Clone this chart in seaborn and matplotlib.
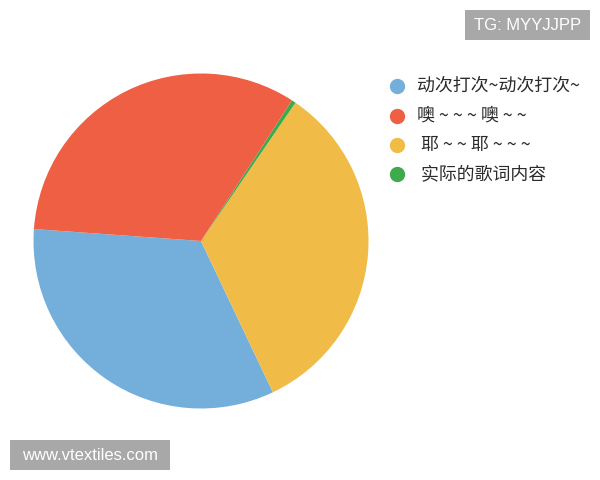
import matplotlib
matplotlib.use("Agg")
import matplotlib.pyplot as plt
import seaborn as sns
from matplotlib.lines import Line2D
from matplotlib.patches import Rectangle

# ---------- data (legend order) ---------- #
labels = ["动次打次~动次打次~", "噢 ~ ~ ~ 噢 ~ ~", " 耶 ~ ~ 耶 ~ ~ ~", " 实际的歌词内容"]
shares = [33.2, 33.0, 33.4, 0.4]
colors = ["#74afdc", "#ee5f44", "#f0bc47", "#3daa4c"]

# wedge drawing order (counter-clockwise from the left edge)
draw_order = [0, 2, 3, 1]

sns.set_theme(style="white")
plt.rcParams["font.family"] = ["Noto Sans CJK SC", "DejaVu Sans"]

fig = plt.figure(figsize=(6, 4.8), dpi=100)
fig.patch.set_facecolor("white")

# pie axes: centre ~ (201, 241) px, radius ~ 167 px
cx, cy, r = 201, 241, 167.5
ax = fig.add_axes([(cx - r) / 600, (480 - cy - r) / 480, 2 * r / 600, 2 * r / 480])
ax.pie([shares[i] for i in draw_order],
       colors=[colors[i] for i in draw_order],
       startangle=175.9, counterclock=True,
       wedgeprops=dict(linewidth=0))
ax.set_xlim(-1, 1)
ax.set_ylim(-1, 1)
ax.set_aspect("equal")
ax.axis("off")

# ---------- legend ---------- #
row_y = [86, 116, 145, 174]
for lab, col, y in zip(labels, colors, row_y):
    fig.add_artist(Line2D([397 / 600], [1 - y / 480], marker="o", markersize=10,
                          color=col, linestyle="none", transform=fig.transFigure))
    fig.text(417 / 600, 1 - y / 480, lab, fontsize=12.9, color="#2b2b2b",
             va="center", ha="left")

# ---------- watermarks ---------- #
def badge(x0, y0, x1, y1, text):
    fig.add_artist(Rectangle((x0 / 600, 1 - y1 / 480), (x1 - x0) / 600, (y1 - y0) / 480,
                             transform=fig.transFigure, facecolor="#a8a8a8",
                             edgecolor="none"))
    fig.text((x0 + x1) / 2 / 600, 1 - (y0 + y1) / 2 / 480, text, color="white",
             fontsize=12, ha="center", va="center", family=["Liberation Sans"])

badge(465, 10, 590, 40, "TG: MYYJJPP")
badge(10, 440, 170, 470, "www.vtextiles.com")

fig.savefig("out.png", dpi=100)
